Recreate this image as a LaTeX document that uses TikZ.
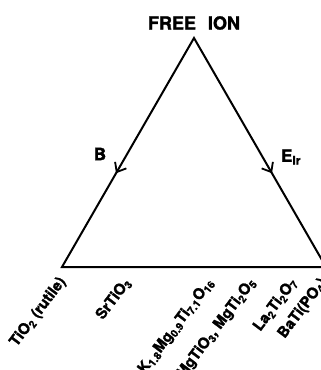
\documentclass[tikz,border=0pt]{standalone}
\usepackage{fontspec}
\setmainfont{TeX Gyre Heros}
\newfontfamily\heavy{texgyreheros-bold.otf}[FakeBold=1.6]
\usetikzlibrary{arrows.meta,decorations.markings}
\begin{document}
\begin{tikzpicture}[x=1pt,y=-1pt,
  lbl/.style={font=\heavy\fontsize{17}{17}\selectfont, inner sep=0pt},
  comp/.style={font=\heavy\fontsize{15}{15}\selectfont, inner sep=0pt, rotate=53, anchor=east},
  side/.style={line width=2pt, line join=miter},
  barb/.style={line width=1.8pt},
  sidearrows/.style={postaction={decorate}, decoration={markings,
    mark=at position 0.197 with {\arrow[barb]{Straight Barb[length=8pt,width=13pt]}},
    mark=at position 0.803 with {\arrowreversed[barb]{Straight Barb[length=8pt,width=13pt]}}}}
]
\useasboundingbox (0,0) rectangle (321,370);
\coordinate (apex) at (194,38);
\coordinate (bl) at (62,267);
\coordinate (br) at (326,267);
\draw[side, sidearrows] (apex) -- (bl) -- (br) -- cycle;

\node[lbl, font=\heavy\fontsize{18}{18}\selectfont] (free) at (194,23) {FREE\hspace{12pt}ION};
\node[lbl] (b) at (100,154) {B};
\node[lbl] (e) at (291,157) {E\textsubscript{Ir}};

\node[comp] (tio2) at (63,279) {TiO\textsubscript{2} (rutile)};
\node[comp] (srtio3) at (128,280) {SrTiO\textsubscript{3}};
\node[comp] (kmg) at (211,280) {K\textsubscript{1.8}Mg\textsubscript{0.9}Ti\textsubscript{7.1}O\textsubscript{16}};
\node[comp] (mgtio3) at (253,280) {MgTiO\textsubscript{3}, MgTi\textsubscript{2}O\textsubscript{5}};
\node[comp] (la) at (294,280) {La\textsubscript{2}Ti\textsubscript{2}O\textsubscript{7}};
\node[comp] (ba) at (324,280) {BaTi(PO\textsubscript{4})};
\end{tikzpicture}
\end{document}
